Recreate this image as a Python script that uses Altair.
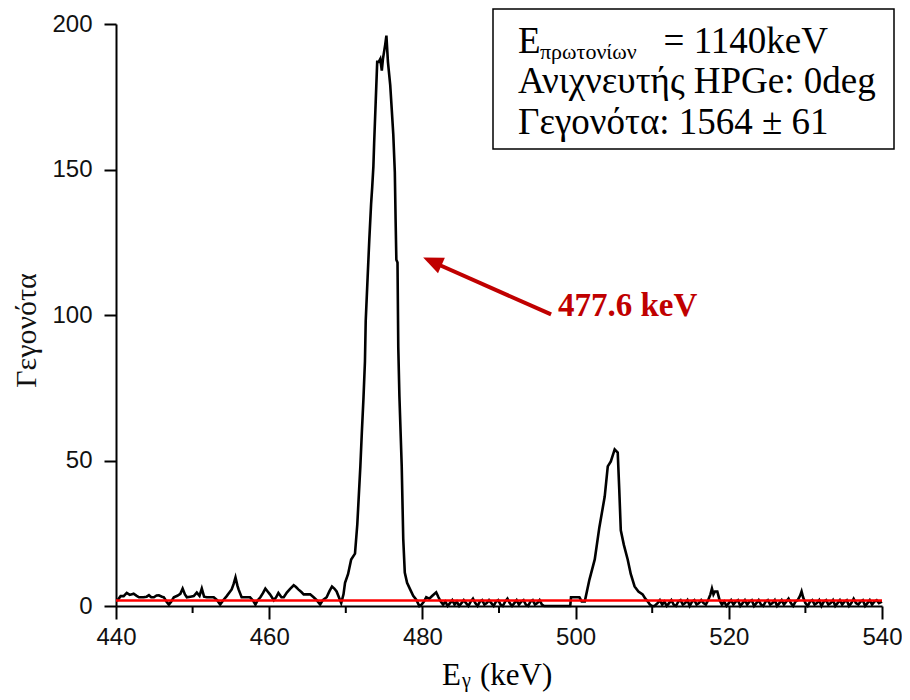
import altair as alt
import pandas as pd

# ---- data: (E_gamma keV, counts) ----
bg_low = [(440.0, 2), (440.2, 2), (440.6, 3.4), (441.0, 3.4), (441.4, 4.5), (441.8, 3.8),
          (442.3, 4.2), (442.7, 3.5), (443.0, 3), (443.6, 3), (444.0, 3.2), (444.3, 3.7),
          (444.6, 3), (444.95, 3), (445.3, 3.6), (445.6, 3.7), (446.0, 3.2), (446.25, 3),
          (446.6, 1.5), (446.9, 0.5), (447.2, 1.5), (447.55, 3), (448.0, 3.5), (448.4, 4.2),
          (448.7, 6), (449.0, 4), (449.25, 3), (449.7, 3.2), (450.15, 3.4), (450.55, 4.6),
          (450.9, 3.5), (451.2, 6), (451.5, 3.2), (451.85, 3), (452.3, 3), (452.76, 3),
          (453.2, 2), (453.6, 0.5), (454.0, 2), (454.45, 3.4), (455.1, 5.7), (455.35, 7.5),
          (455.6, 9.8), (455.85, 7), (456.0, 5.7), (456.4, 3), (457.0, 3), (457.5, 3),
          (457.85, 2), (458.2, 0.5), (458.5, 2), (458.85, 3), (459.2, 4.5), (459.5, 6),
          (459.8, 5), (460.1, 4), (460.6, 2), (460.9, 3), (461.2, 4.5), (461.6, 3),
          (461.9, 3), (462.3, 4.6), (462.7, 5.8), (463.2, 7.1), (463.5, 6.5), (463.8, 5.7),
          (464.2, 4.8), (464.5, 4), (465.0, 4), (465.35, 4), (465.8, 3), (466.2, 2),
          (466.65, 0.5), (467.0, 2), (467.5, 3), (467.85, 5), (468.2, 6.7), (468.5, 6),
          (468.8, 5), (469.1, 3), (469.4, 1)]

peak_main = [(469.7, 4), (469.9, 8), (470.3, 11), (470.7, 16), (471.2, 18), (471.5, 28),
             (471.9, 48), (472.1, 60), (472.3, 71), (472.5, 84), (472.6, 98), (472.85, 113),
             (473.07, 126), (473.3, 138), (473.45, 144), (473.6, 151), (473.7, 159),
             (473.9, 173), (474.1, 187), (474.3, 187), (474.5, 188), (474.7, 184),
             (474.85, 188), (475.0, 190.5), (475.15, 193), (475.3, 196), (475.5, 187),
             (475.8, 179), (476.0, 170.6), (476.2, 162), (476.4, 149), (476.5, 133),
             (476.6, 119), (476.75, 118), (476.85, 89), (477.0, 72), (477.3, 48),
             (477.5, 23), (477.7, 11.5), (478.0, 8), (478.4, 5.7), (478.8, 3.5),
             (479.2, 2.2), (479.6, 0)]

bg_mid = [(479.9, 0.5), (480.2, 1.5), (480.5, 3), (480.9, 2.5), (481.3, 3.5), (481.8, 4.7),
          (482.1, 3), (482.4, 1.5), (482.7, 0.5), (483.0, 1.5), (483.3, 0), (483.6, 1),
          (483.9, 2), (484.2, 0.5), (484.5, 1.5), (484.8, 0), (485.1, 1), (485.4, 2),
          (485.7, 1), (486.0, 0), (486.3, 1.5), (486.6, 2.5), (486.9, 1), (487.2, 0),
          (487.5, 1.5), (487.8, 2), (488.1, 0.5), (488.4, 1), (488.7, 2), (489.0, 1),
          (489.3, 0), (489.6, 1.5), (489.9, 2), (490.2, 0.5), (490.5, 0), (490.8, 1.5),
          (491.1, 2.5), (491.4, 1), (491.7, 0), (492.0, 1), (492.3, 2), (492.6, 0.5),
          (492.9, 1.5), (493.2, 2), (493.5, 0.5), (493.8, 0), (494.1, 1.5), (494.4, 2),
          (494.7, 0.5), (495.0, 1), (495.3, 2), (495.6, 0.5), (495.9, 0), (497.0, 0),
          (498.0, 0), (499.3, 0), (499.4, 3), (500.5, 3), (500.8, 1.6)]

peak_second = [(501.2, 1.6), (501.8, 9), (502.5, 16), (503.1, 27), (503.8, 37.6), (504.2, 48),
               (504.6, 49.7), (505.1, 53.8), (505.5, 52.7), (505.7, 40), (505.9, 26),
               (506.3, 21), (506.8, 16), (507.2, 11), (507.7, 6.7), (508.2, 5),
               (508.75, 4), (509.1, 2.5), (509.4, 1.6)]

bg_high = [(509.7, 0.5), (510.0, 0), (510.3, 0), (510.7, 1), (511.0, 2), (511.3, 0.5),
           (511.6, 1.5), (511.9, 0), (512.2, 1), (512.5, 2), (512.8, 0.5), (513.1, 0),
           (513.4, 1.5), (513.7, 2), (514.0, 0.5), (514.3, 1), (514.6, 2), (514.9, 0),
           (515.2, 1.5), (515.5, 2), (515.8, 0.5), (516.1, 1), (516.4, 2), (516.7, 1),
           (517.0, 0.5), (517.3, 2), (517.6, 4), (517.8, 6), (518.0, 4), (518.2, 5),
           (518.5, 5), (518.8, 2), (519.1, 0.5), (519.4, 1.5), (519.7, 0), (520.0, 1),
           (520.3, 2), (520.6, 0.5), (520.9, 1.5), (521.2, 2), (521.5, 0), (521.8, 1),
           (522.1, 2), (522.4, 0.5), (522.7, 1.5), (523.0, 2), (523.3, 0), (523.6, 1),
           (523.9, 2), (524.2, 0.5), (524.5, 0), (524.8, 1.5), (525.1, 2), (525.4, 0.5),
           (525.7, 1), (526.0, 2), (526.3, 0), (526.6, 1), (526.9, 2), (527.2, 0.5),
           (527.5, 1.5), (527.8, 2.5), (528.1, 1), (528.4, 0), (528.7, 1.5), (529.0, 2),
           (529.3, 3.5), (529.5, 5), (529.7, 3), (530.0, 1), (530.3, 0), (530.6, 1.5),
           (530.9, 2), (531.2, 0.5), (531.5, 1), (531.8, 2), (532.1, 0), (532.4, 1.5),
           (532.7, 2), (533.0, 0.5), (533.3, 1), (533.6, 2), (533.9, 0), (534.2, 1),
           (534.5, 2), (534.8, 0.5), (535.1, 1.5), (535.4, 2), (535.7, 0), (536.0, 1),
           (536.3, 2.5), (536.6, 1), (536.9, 0.5), (537.2, 1.5), (537.5, 2), (537.8, 0),
           (538.1, 1), (538.4, 2), (538.7, 0.5), (539.0, 1.5), (539.3, 2), (539.6, 1),
           (540.0, 1.5)]

red_level = [1.9]
x_ticks = [440, 460, 480, 500, 520, 540]
x_minor = [450, 470, 490, 510, 530]
y_ticks = [0, 50, 100, 150, 200]

arrow_tail = (496.8, 100.2)
arrow_end = (481.2, 118.4)
arrow_tip = (480.1, 119.8)
peak_label = (497.7, 99.6, "477.6 keV")

info_lines = ["Ανιχνευτής HPGe: 0deg", "Γεγονότα: 1564 ± 61"]

# ---- build table ----
spectrum = bg_low + peak_main + bg_mid + peak_second + bg_high
df = pd.DataFrame(spectrum, columns=["E", "C"])

SERIF = "Liberation Serif, DejaVu Serif, serif"
SANS = "Liberation Sans, Arial, sans-serif"
DARKRED = "#c00000"

xscale = alt.Scale(domain=[440, 540], nice=False, zero=False)
yscale = alt.Scale(domain=[0, 200], nice=False)
xaxis = alt.Axis(values=x_ticks, format="d", title=None, grid=False,
                 labelFont=SANS, labelFontSize=24, labelColor="#111111",
                 labelPadding=6, labelFlush=False, tickSize=13, tickWidth=2,
                 tickColor="black", domainColor="black", domainWidth=2)
yaxis = alt.Axis(values=y_ticks, format="d", grid=False, title="Γεγονότα",
                 titleFont=SERIF, titleFontSize=30, titleFontWeight="normal",
                 titleColor="#111111", titleAngle=270, titleX=-81, titleY=306,
                 titleBaseline="alphabetic", titleAlign="center",
                 labelFont=SANS, labelFontSize=24, labelColor="#111111",
                 labelPadding=12, labelFlush=False, tickSize=12, tickWidth=2,
                 tickColor="black", domainColor="black", domainWidth=2)
X = alt.X("E:Q", scale=xscale, axis=xaxis)
Y = alt.Y("C:Q", scale=yscale, axis=yaxis)

line = alt.Chart(df).mark_line(color="black", strokeWidth=2.6).encode(x=X, y=Y)

red = alt.Chart(pd.DataFrame({"C": red_level})).mark_rule(
    color="#ff0000", strokeWidth=2.5).encode(y=Y)

minor = alt.Chart(pd.DataFrame({"E": x_minor})).mark_rule(
    color="black", strokeWidth=2).encode(x=X, y=alt.value(582), y2=alt.value(589))

arrow_df = pd.DataFrame({"E": [arrow_tail[0]], "C": [arrow_tail[1]],
                         "E2": [arrow_end[0]], "C2": [arrow_end[1]]})
arrow_line = alt.Chart(arrow_df).mark_rule(color=DARKRED, strokeWidth=4).encode(
    x=X, y=Y, x2="E2:Q", y2="C2:Q")
head_df = pd.DataFrame({"E": [arrow_tip[0]], "C": [arrow_tip[1]]})
arrow_head = alt.Chart(head_df).mark_point(
    shape="M0,0 L0.42,1 L-0.42,1 Z", size=1600, angle=294, filled=True,
    color=DARKRED, opacity=1, strokeWidth=0).encode(x=X, y=Y)

label_df = pd.DataFrame({"E": [peak_label[0]], "C": [peak_label[1]], "t": [peak_label[2]]})
label = alt.Chart(label_df).mark_text(
    align="left", baseline="alphabetic", font=SERIF, fontWeight="bold",
    fontSize=33, color=DARKRED).encode(x=X, y=Y, text="t:N")

one = pd.DataFrame({"a": [0]})
box = alt.Chart(one).mark_rect(fill="white", stroke="black", strokeWidth=1.5).encode(
    x=alt.value(377), x2=alt.value(778), y=alt.value(-15), y2=alt.value(125))


def txt(s, x, y, size, align="left", font=SERIF):
    return alt.Chart(one).mark_text(
        text=s, align=align, baseline="alphabetic", font=font, fontSize=size,
        color="black").encode(x=alt.value(x), y=alt.value(y))


info = [
    txt("E", 402, 29, 37),
    txt("πρωτονίων", 424, 35, 22),
    txt("= 1140keV", 712, 29, 37, align="right"),
    txt(info_lines[0], 402, 69, 37),
    txt(info_lines[1], 402, 110, 37),
]

xtitle = [
    txt("E", 326, 661, 31),
    txt("γ", 346, 663, 20),
    txt("(keV)", 364, 661, 31),
]

chart = alt.layer(line, red, minor, arrow_line, arrow_head, label, box, *info, *xtitle).properties(
    width=766, height=582,
    padding={"left": 108, "top": 16, "right": 20, "bottom": 86},
    autosize=alt.AutoSizeParams(type="none"),
).configure_view(stroke=None)

chart.save("out.html", embed_options={"renderer": "svg", "actions": False})
